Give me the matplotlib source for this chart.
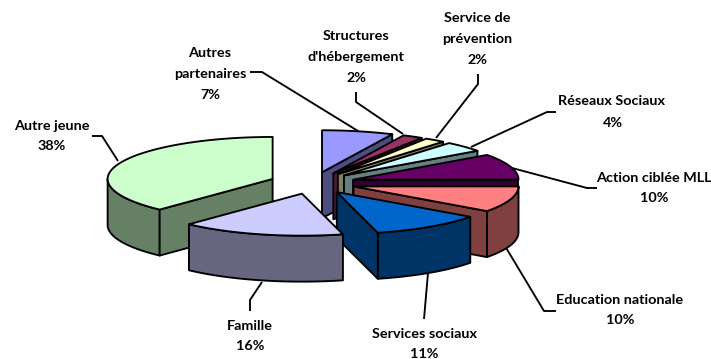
import numpy as np
import matplotlib.pyplot as plt
from matplotlib.patches import Polygon

# ======================
# DATA
# ======================
names = ["Autres\npartenaires", "Structures\nd'hébergement", "Service de\nprévention",
         "Réseaux Sociaux", "Action ciblée MLL", "Education nationale",
         "Services sociaux", "Famille", "Autre jeune"]
values = [7, 2, 2, 4, 10, 10, 11, 16, 38]
top_colors = ["#9999FF", "#993366", "#FFFFCC", "#CCFFFF", "#660066",
              "#FF8080", "#0066CC", "#CCCCFF", "#CCFFCC"]
side_colors = ["#4D4D80", "#4D1A33", "#808066", "#668080", "#330033",
               "#804040", "#003366", "#666680", "#668066"]

# ======================
# LAYOUT (pixels)
# ======================
W, H = 711, 359
CX, CY = 312.6, 183
RX, RY = 165, 42
EX, EY = 43, 11
DEPTH = 46
LW = 1.35

label_pos = [(210, 74), (356, 57), (477, 39), (613, 112), (654, 188),
             (620, 310), (424, 344), (250, 336), (52, 136)]
leaders = [
    [(250, 72), (262, 72), (358, 131)],
    [(356, 92), (356, 102), (403, 134)],
    [(478, 74), (478, 84), (436, 138)],
    [(556, 112), (547, 112), (471, 147)],
    [(597, 188), (587, 188), (512, 168)],
    [(556, 311), (544, 311), (505, 246)],
    [(424, 319), (428, 273)],
    [(250, 311), (250, 300), (262, 282)],
    [(92, 136), (102, 136), (118, 161)],
]
# back slices first, Famille last
draw_order = [0, 1, 2, 3, 4, 5, 6, 8, 7]

plt.rcParams["font.family"] = ["Lato", "DejaVu Sans"]

fig = plt.figure(figsize=(W / 100, H / 100), dpi=100)
ax = fig.add_axes([0, 0, 1, 1])
ax.set_xlim(0, W)
ax.set_ylim(H, 0)
ax.axis("off")


def point(apex, t, r=1.0):
    return (apex[0] + r * RX * np.sin(t), apex[1] - r * RY * np.cos(t))


def face(pts, color, z):
    ax.add_patch(Polygon(pts, closed=True, facecolor=color, edgecolor="black",
                         linewidth=LW, joinstyle="round", zorder=z))


edges = np.radians(np.cumsum([0] + values) * 3.6)

z = 2
for i in draw_order:
    t0, t1 = edges[i], edges[i + 1]
    mid = (t0 + t1) / 2
    apex = (CX + EX * np.sin(mid), CY - EY * np.cos(mid))
    side = side_colors[i]

    # outer wall, only the part turned to the viewer
    a0, a1 = max(t0, np.pi / 2), min(t1, 3 * np.pi / 2)
    if a1 > a0:
        ts = np.linspace(a0, a1, 60)
        upper = [point(apex, t) for t in ts]
        lower = [(x, y + DEPTH) for x, y in upper]
        face(upper + lower[::-1], side, z)
        z += 1

    # cut walls, start edge faces the viewer only past 270 deg, end edge below 180 deg
    for t, visible in ((t0, np.sin(t0) < 0), (t1, np.sin(t1) > 0)):
        if visible:
            p = point(apex, t)
            face([apex, p, (p[0], p[1] + DEPTH), (apex[0], apex[1] + DEPTH)], side, z)
            z += 1

    # top face
    ts = np.linspace(t0, t1, 80)
    face([apex] + [point(apex, t) for t in ts], top_colors[i], z)
    z += 1

for line in leaders:
    xs, ys = zip(*line)
    ax.plot(xs, ys, color="black", lw=LW, zorder=1, solid_capstyle="butt")

for name, val, (x, y) in zip(names, values, label_pos):
    if name == "Réseaux Sociaux":
        # first line sits off-centre from the percent in the reference
        ax.text(611, 101, name, ha="center", va="center", fontsize=10.4,
                fontweight="bold", zorder=z + 1)
        ax.text(x, 123, f"{val}%", ha="center", va="center", fontsize=10.4,
                fontweight="bold", zorder=z + 1)
        continue
    ax.text(x, y, f"{name}\n{val}%", ha="center", va="center", ma="center",
            fontsize=10.4, fontweight="bold", color="black", linespacing=1.87,
            zorder=z + 1)

fig.savefig("out.png", dpi=100)
